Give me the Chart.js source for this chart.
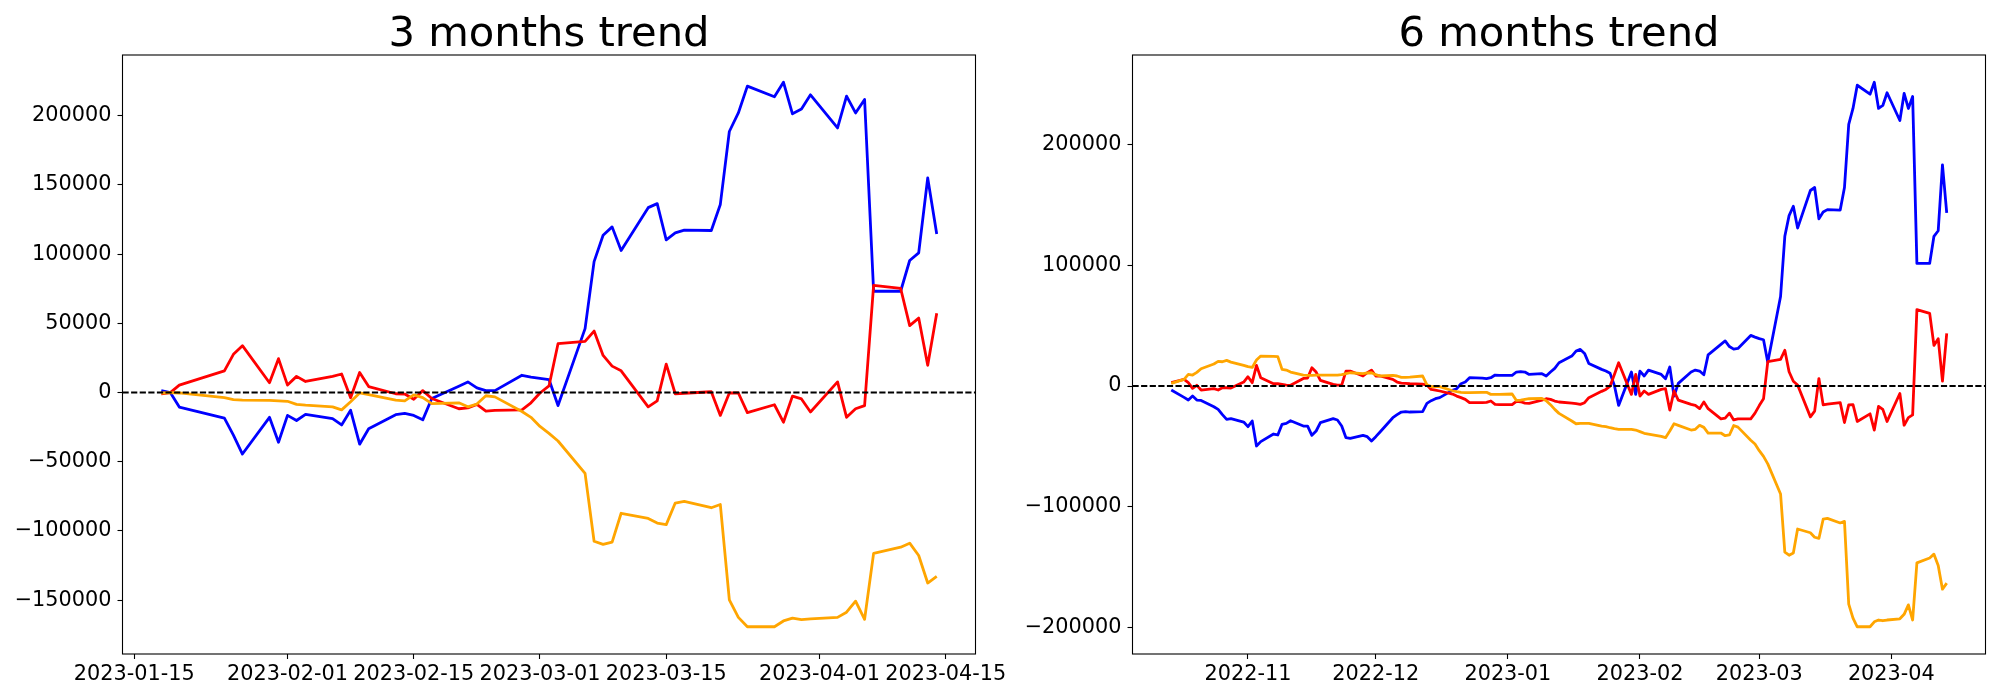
<!DOCTYPE html>
<html>
<head>
<meta charset="utf-8">
<script src="https://cdn.jsdelivr.net/npm/chart.js@4.4.1/dist/chart.umd.min.js"></script>
<style>
  html, body { margin: 0; padding: 0; background: #fff; }
  body { width: 2000px; height: 700px; position: relative; overflow: hidden; }
  canvas { position: absolute; top: 0; }
</style>
</head>
<body>
<canvas id="c1" width="1060" height="700" style="left:0px"></canvas>
<canvas id="c2" width="1000" height="700" style="left:1000px"></canvas>
<script>
// ---------------- 3 months ----------------
const dates3m = ['2023-01-18','2023-01-19','2023-01-20','2023-01-25','2023-01-26','2023-01-27','2023-01-30','2023-01-31',
  '2023-02-01','2023-02-02','2023-02-03','2023-02-06','2023-02-07','2023-02-08','2023-02-09','2023-02-10','2023-02-13','2023-02-14',
  '2023-02-15','2023-02-16','2023-02-17','2023-02-20','2023-02-21','2023-02-22','2023-02-23','2023-02-24','2023-02-27','2023-02-28',
  '2023-03-01','2023-03-02','2023-03-03','2023-03-06','2023-03-07','2023-03-08','2023-03-09','2023-03-10','2023-03-13','2023-03-14',
  '2023-03-15','2023-03-16','2023-03-17','2023-03-20','2023-03-21','2023-03-22','2023-03-23','2023-03-24','2023-03-27','2023-03-28',
  '2023-03-29','2023-03-30','2023-03-31','2023-04-03','2023-04-04','2023-04-05','2023-04-06','2023-04-07','2023-04-10','2023-04-11',
  '2023-04-12','2023-04-13','2023-04-14'];
const blue3m = [1400, 0, -10500, -18500, -30800, -44400, -17900, -35900,
  -16500, -20200, -15700, -18800, -23400, -12800, -37300, -26200, -16000, -15100, -16500, -19700, -4300, 4600, 7700, 3400, 1400, 1400, 12500, 11100,
  10300, 9400, -9400, 46200, 94600, 113700, 119700, 102600, 133600, 136500, 110300, 115400, 117400, 117100, 135900, 188600, 202000, 221400, 213700, 224200, 201400, 204800, 215100,
  191200, 214200, 202000, 211700, 73200, 73200, 95400, 100900, 155000, 114500];
const red3m = [-900, 0, 5400, 15700, 27600, 33900, 7100, 24500,
  5400, 11700, 8000, 11700, 13400, -3700, 14500, 4300, -850, -1100, -4800, 1400, -4300, -11700, -11100, -8500, -13400, -12800, -12500, -7400,
  -300, 4800, 35300, 37000, 44400, 26800, 19100, 15700, -10300, -6000, 20500, -850, -500, 600, -16500, -300, -300, -14500, -8800, -21400, -2600, -4600, -14000,
  7700, -17900, -11700, -9400, 77500, 75200, 48400, 53800, 19700, 57300];
const orange3m = [-300, 0, -300, -3700, -5100, -5400, -5700, -6000,
  -6300, -8500, -9100, -10300, -12500, -6600, -300, -1400, -5400, -6000, -1700, -3700, -8000, -7400, -10300, -8300, -2300, -3100, -13700, -17900,
  -24500, -29500, -35000, -58400, -107400, -109700, -108000, -87200, -90900, -94300, -95400, -79800, -78600, -83200, -80900, -149800, -162400, -169200, -169200, -165000, -163000, -164100, -163500,
  -162400, -158700, -150700, -163800, -116200, -111700, -108800, -117700, -137600, -132800];
const xTicks3m = ['2023-01-15','2023-02-01','2023-02-15','2023-03-01','2023-03-15','2023-04-01','2023-04-15'];
const yTicks3m = [-150000, -100000, -50000, 0, 50000, 100000, 150000, 200000];

// ---------------- 6 months ----------------
const dates6m = ['2022-10-14',
  '2022-10-17','2022-10-18','2022-10-19','2022-10-20','2022-10-21',
  '2022-10-24','2022-10-25','2022-10-26','2022-10-27','2022-10-28',
  '2022-10-31','2022-11-01','2022-11-02','2022-11-03','2022-11-04',
  '2022-11-07','2022-11-08','2022-11-09','2022-11-10','2022-11-11',
  '2022-11-14','2022-11-15','2022-11-16','2022-11-17','2022-11-18',
  '2022-11-21','2022-11-22','2022-11-23','2022-11-24','2022-11-25',
  '2022-11-28','2022-11-29','2022-11-30','2022-12-01','2022-12-02',
  '2022-12-05','2022-12-06','2022-12-07','2022-12-08','2022-12-09',
  '2022-12-12','2022-12-13','2022-12-14','2022-12-15','2022-12-16',
  '2022-12-19','2022-12-20','2022-12-21','2022-12-22','2022-12-23',
  '2022-12-26','2022-12-27','2022-12-28','2022-12-29','2022-12-30',
  '2023-01-02','2023-01-03','2023-01-04','2023-01-05','2023-01-06',
  '2023-01-09','2023-01-10','2023-01-11','2023-01-12','2023-01-13',
  '2023-01-16','2023-01-17','2023-01-18','2023-01-19','2023-01-20',
  '2023-01-23','2023-01-24','2023-01-25','2023-01-26','2023-01-27',
  '2023-01-30','2023-01-31','2023-02-01','2023-02-02','2023-02-03',
  '2023-02-06','2023-02-07','2023-02-08','2023-02-09','2023-02-10',
  '2023-02-13','2023-02-14','2023-02-15','2023-02-16','2023-02-17',
  '2023-02-20','2023-02-21','2023-02-22','2023-02-23','2023-02-24',
  '2023-02-27','2023-02-28','2023-03-01','2023-03-02','2023-03-03',
  '2023-03-06','2023-03-07','2023-03-08','2023-03-09','2023-03-10',
  '2023-03-13','2023-03-14','2023-03-15','2023-03-16','2023-03-17',
  '2023-03-20','2023-03-21','2023-03-22','2023-03-23','2023-03-24',
  '2023-03-27','2023-03-28','2023-03-29','2023-03-30','2023-03-31',
  '2023-04-03','2023-04-04','2023-04-05','2023-04-06','2023-04-07',
  '2023-04-10','2023-04-11','2023-04-12','2023-04-13','2023-04-14'];
const blue6m = [-3300,
  -9400, -11600, -8300, -11600, -11900,
  -17100, -19300, -23700, -27600, -27000,
  -29800, -33600, -28900, -49600, -46000,
  -39700, -40500, -31700, -30900, -28700,
  -33100, -33100, -40800, -37200, -30300,
  -27000, -28100, -33100, -42700, -43300,
  -40800, -41900, -45500, -41900, -38000,
  -26200, -23700, -21500, -21200, -21500,
  -21200, -14300, -12100, -10500, -9600,
  -3600, -2200, 1900, 3300, 6900,
  6600, 6100, 6900, 9100, 8800,
  8800, 11600, 11900, 11600, 9600,
  10200, 8300, 11600, 14600, 19300,
  24800, 28900, 30300, 27000, 18700,
  13800, 12400, 10500, 500, -16000,
  11600, -6900, 12400, 8300, 13200,
  9600, 6100, 15700, -8300, 2200,
  11600, 13200, 12400, 9300, 25800,
  34500, 37300, 32700, 30500, 31100,
  41900, 40500, 39200, 38300, 19600,
  74100, 123900, 141000, 148800, 130700,
  161800, 164300, 138400, 144000, 146000,
  145600, 164300, 216600, 229700, 248900,
  241500, 251400, 229700, 232200, 242700,
  219700, 242100, 229700, 239600, 101500,
  101500, 123900, 128500, 183000, 143200];
const red6m = [2800,
  5500, 2800, -1900, 600, -3300,
  -2200, -3300, -1400, -1400, -1700,
  3300, 7700, 2800, 17100, 6900,
  1900, 1900, 1400, 800, 600,
  6300, 6600, 15200, 11600, 4700,
  1400, 800, 800, 12400, 12400,
  8300, 11000, 13200, 8300, 8300,
  5500, 3300, 2500, 2200, 1900,
  1600, 800, -2800, -3300, -4100,
  -6600, -8300, -9600, -11000, -13800,
  -13800, -13500, -12400, -15200, -15400,
  -15400, -12700, -13000, -14100, -14300,
  -11600, -10500, -11000, -12400, -13200,
  -14100, -14600, -15200, -13800, -9600,
  -4400, -2800, 0, 9600, 19300,
  -6900, 9600, -8300, -4100, -6900,
  -2800, -2200, -19900, -4100, -11600,
  -15200, -16000, -18700, -13100, -18700,
  -27100, -26500, -22400, -28000, -27100,
  -27100, -22400, -16200, -10600, 20200,
  22100, 29600, 11800, 4000, 900,
  -25500, -20800, 6200, -15600, -15000,
  -13700, -30200, -15600, -15300, -29300,
  -23000, -36400, -16800, -19300, -29300,
  -6200, -32400, -26100, -23900, 63200,
  60100, 33600, 39200, 4000, 43600];
const orange6m = [2200,
  5500, 9600, 9100, 11300, 14300,
  18200, 20400, 20100, 21200, 19800,
  17100, 16000, 15400, 21500, 24800,
  24500, 24300, 13800, 13200, 11600,
  9100, 8800, 8800, 9100, 9100,
  9100, 9100, 9400, 10200, 11000,
  10200, 10800, 11000, 9400, 8300,
  8800, 8300, 7200, 7200, 7400,
  8300, 1000, -500, -300, -500,
  -3900, -4700, -5200, -5500, -5500,
  -5200, -5200, -6900, -6900, -6900,
  -6600, -11900, -11600, -11000, -10500,
  -10200, -12100, -15400, -19300, -22600,
  -28900, -31200, -30900, -30900, -30900,
  -33100, -33600, -34500, -35300, -35800,
  -35800, -36400, -37700, -39100, -39700,
  -41600, -42700, -37200, -31200, -32500,
  -36400, -35800, -32500, -34200, -38900,
  -38900, -41100, -40500, -32700, -34000,
  -44800, -47900, -53500, -58200, -64400,
  -89300, -137500, -140000, -138200, -118300,
  -121400, -125100, -126100, -110200, -109500,
  -113300, -112000, -180500, -192000, -199200,
  -199200, -195100, -193600, -194200, -193600,
  -192600, -188900, -181100, -193600, -146300,
  -142300, -139100, -148500, -168100, -163100];
const xTicks6m = ['2022-11-01','2022-12-01','2023-01-01','2023-02-01','2023-03-01','2023-04-01'];
const yTicks6m = [-200000, -100000, 0, 100000, 200000];

// ---------------- helpers ----------------
const FONT = '"DejaVu Sans", "Liberation Sans", sans-serif';
function dayNum(s) { const p = s.split('-').map(Number); return Date.UTC(p[0], p[1] - 1, p[2]) / 864e5; }
function fmtY(v) { return v < 0 ? '\u2212' + Math.abs(v) : String(v); }
function fmtDay(v, len) { return new Date(Math.round(v) * 864e5).toISOString().slice(0, len); }

const framePlugin = {
  id: 'frame',
  afterDraw(chart, args, opts) {
    const { ctx, chartArea: a } = chart;
    ctx.save();
    ctx.strokeStyle = '#000';
    ctx.lineWidth = 1.1;
    ctx.strokeRect(a.left, a.top, a.right - a.left, a.bottom - a.top);
    ctx.fillStyle = '#000';
    ctx.font = '41.7px ' + FONT;
    ctx.textAlign = 'center';
    ctx.textBaseline = 'alphabetic';
    ctx.fillText(opts.text, (a.left + a.right) / 2, a.top - 9);
    ctx.restore();
  }
};

function makeChart(canvasId, cfg) {
  const xs = cfg.dates.map(dayNum);
  const xMin0 = Math.min(...xs), xMax0 = Math.max(...xs);
  const xPad = (xMax0 - xMin0) * 0.05;
  const all = cfg.blue.concat(cfg.red, cfg.orange);
  const yMin0 = Math.min(...all), yMax0 = Math.max(...all);
  const yPad = (yMax0 - yMin0) * 0.05;
  const pts = arr => arr.map((v, i) => ({ x: xs[i], y: v }));
  const line = (label, data, color) => ({
    label, data: pts(data), borderColor: color, backgroundColor: color,
    borderWidth: 2.8, pointRadius: 0, tension: 0, fill: false,
    borderJoinStyle: 'round', borderCapStyle: 'butt'
  });
  const xTickVals = cfg.xTicks.map(dayNum);
  return new Chart(document.getElementById(canvasId), {
    type: 'line',
    data: {
      datasets: [
        { label: 'zero', data: [{ x: xMin0 - xPad, y: 0 }, { x: xMax0 + xPad, y: 0 }],
          borderColor: '#000', borderWidth: 2, borderDash: [6.2, 2.4], pointRadius: 0, fill: false },
        line('orange', cfg.orange, '#ffa500'),
        line('red', cfg.red, '#ff0000'),
        line('blue', cfg.blue, '#0000ff')
      ]
    },
    options: {
      responsive: false,
      animation: false,
      events: [],
      layout: { padding: { top: 55, right: cfg.padRight, bottom: 0, left: 0 } },
      plugins: { legend: { display: false }, tooltip: { enabled: false }, title: { display: false },
        frame: { text: cfg.title } },
      scales: {
        x: {
          type: 'linear', min: xMin0 - xPad, max: xMax0 + xPad,
          afterBuildTicks: s => { s.ticks = xTickVals.map(v => ({ value: v })); },
          afterFit: s => { s.height = 46; },
          ticks: { autoSkip: false, maxRotation: 0, minRotation: 0, padding: 3, color: '#000',
            font: { family: FONT, size: 20.8 }, callback: v => fmtDay(v, cfg.xLen) },
          grid: { drawOnChartArea: false, drawTicks: true, tickLength: 5, tickColor: '#000', tickWidth: 1.1 },
          border: { display: false }
        },
        y: {
          type: 'linear', min: yMin0 - yPad, max: yMax0 + yPad,
          afterBuildTicks: s => { s.ticks = cfg.yTicks.map(v => ({ value: v })); },
          afterFit: s => { s.width = cfg.yWidth; },
          ticks: { autoSkip: false, padding: 6, color: '#000',
            font: { family: FONT, size: 20.8 }, callback: v => fmtY(v) },
          grid: { drawOnChartArea: false, drawTicks: true, tickLength: 5, tickColor: '#000', tickWidth: 1.1 },
          border: { display: false }
        }
      }
    },
    plugins: [framePlugin]
  });
}

makeChart('c1', { dates: dates3m, blue: blue3m, red: red3m, orange: orange3m,
  xTicks: xTicks3m, yTicks: yTicks3m, xLen: 10, title: '3 months trend', yWidth: 122.5, padRight: 84.5 });
makeChart('c2', { dates: dates6m, blue: blue6m, red: red6m, orange: orange6m,
  xTicks: xTicks6m, yTicks: yTicks6m, xLen: 7, title: '6 months trend', yWidth: 132.5, padRight: 14.5 });
</script>
</body>
</html>
